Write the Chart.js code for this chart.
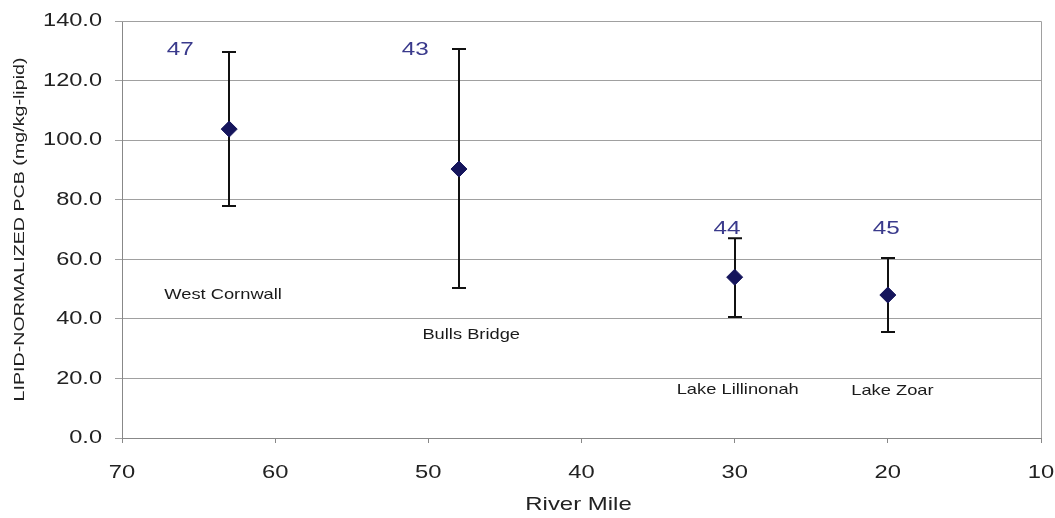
<!DOCTYPE html>
<html>
<head>
<meta charset="utf-8">
<script src="https://cdn.jsdelivr.net/npm/chart.js@4/dist/chart.umd.min.js"></script>
<style>
  html, body { margin: 0; padding: 0; background: #ffffff; }
  #wrap { width: 1055px; height: 518px; position: relative; }
</style>
</head>
<body>
<div id="wrap"><canvas id="chart"></canvas></div>
<script>
// Sampling stations along the river
const stations = ['West Cornwall', 'Bulls Bridge', 'Lake Lillinonah', 'Lake Zoar'];
const riverMile = [63, 48, 30, 20];
const meanPCB = [103.7, 90.3, 54.0, 48.0];
const upperPCB = [129.6, 130.6, 67.1, 60.4];
const lowerPCB = [77.9, 50.4, 40.6, 35.6];
const sampleCounts = ['47', '43', '44', '45'];

// Where the count and station name texts sit, in axis units [mile, value]
const countAnchors = [[66.2, 130.2], [50.85, 130.2], [30.5, 70.2], [20.1, 70.2]];
const nameAnchors = [[63.4, 48.0], [47.2, 34.6], [29.8, 16.1], [19.7, 15.8]];

const yTicks = [0, 20, 40, 60, 80, 100, 120, 140];
const xTicks = [70, 60, 50, 40, 30, 20, 10];
const xTitle = 'River Mile';
const yTitle = 'LIPID-NORMALIZED PCB (mg/kg-lipid)';

const FONT = '"Liberation Sans", Arial, sans-serif';
const points = riverMile.map((m, i) => ({ x: m, y: meanPCB[i] }));

// Text with a wide letter form (horizontal stretch sx along the text direction)
function wideText(ctx, text, x, y, size, sx, color, align, rotate) {
  ctx.save();
  ctx.translate(x, y);
  if (rotate) ctx.rotate(-Math.PI / 2);
  ctx.scale(sx, 1);
  ctx.font = size + 'px ' + FONT;
  ctx.fillStyle = color;
  ctx.textAlign = align || 'center';
  ctx.textBaseline = 'middle';
  ctx.fillText(text, 0, 0);
  ctx.restore();
}

// Vertical range bars with end caps
const rangeBars = {
  id: 'rangeBars',
  beforeDatasetsDraw(chart) {
    const { ctx, scales: { x, y } } = chart;
    ctx.save();
    ctx.strokeStyle = '#111111';
    ctx.lineWidth = 2;
    riverMile.forEach((m, i) => {
      const px = Math.round(x.getPixelForValue(m));
      const top = y.getPixelForValue(upperPCB[i]);
      const bot = y.getPixelForValue(lowerPCB[i]);
      ctx.beginPath();
      ctx.moveTo(px, top); ctx.lineTo(px, bot);
      ctx.moveTo(px - 7, top); ctx.lineTo(px + 7, top);
      ctx.moveTo(px - 7, bot); ctx.lineTo(px + 7, bot);
      ctx.stroke();
    });
    ctx.restore();
  }
};

// Axis labels, titles, sample counts and station names
const chartText = {
  id: 'chartText',
  afterDatasetsDraw(chart) {
    const { ctx, scales: { x, y }, chartArea: a } = chart;
    yTicks.forEach(v => {
      wideText(ctx, v.toFixed(1), a.left - 20, y.getPixelForValue(v), 19, 1.24, '#222222', 'right');
    });
    xTicks.forEach(v => {
      wideText(ctx, String(v), x.getPixelForValue(v), a.bottom + 35, 19, 1.25, '#222222', 'center');
    });
    wideText(ctx, xTitle, (a.left + a.right) / 2 - 3, a.bottom + 67, 19, 1.26, '#222222', 'center');
    wideText(ctx, yTitle, 20, (a.top + a.bottom) / 2, 15, 1.31, '#222222', 'center', true);
    sampleCounts.forEach((t, i) => {
      wideText(ctx, t, x.getPixelForValue(countAnchors[i][0]), y.getPixelForValue(countAnchors[i][1]),
        18, 1.35, '#3a3a8c', 'center');
    });
    stations.forEach((t, i) => {
      wideText(ctx, t, x.getPixelForValue(nameAnchors[i][0]), y.getPixelForValue(nameAnchors[i][1]),
        15, 1.22, '#1a1a1a', 'center');
    });
  }
};

// Top and right frame lines of the plot area
const frame = {
  id: 'frame',
  beforeDatasetsDraw(chart) {
    const { ctx, chartArea: a } = chart;
    ctx.save();
    ctx.strokeStyle = '#a0a0a0';
    ctx.lineWidth = 1;
    ctx.beginPath();
    ctx.moveTo(a.left, a.top + 0.5); ctx.lineTo(a.right + 0.5, a.top + 0.5);
    ctx.lineTo(a.right + 0.5, a.bottom);
    ctx.stroke();
    ctx.restore();
  }
};

new Chart(document.getElementById('chart'), {
  type: 'scatter',
  data: {
    datasets: [{
      data: points,
      pointStyle: 'rectRot',
      pointRadius: 8,
      pointHoverRadius: 8,
      backgroundColor: '#15155c',
      borderColor: '#15155c',
      borderWidth: 1
    }]
  },
  options: {
    responsive: true,
    maintainAspectRatio: false,
    animation: false,
    layout: { padding: { top: 21, right: 14, left: 0, bottom: 0 } },
    plugins: { legend: { display: false }, tooltip: { enabled: false } },
    scales: {
      x: {
        type: 'linear',
        reverse: true,
        min: 10,
        max: 70,
        afterFit(s) { s.height = 80; },
        afterBuildTicks(s) { s.ticks = xTicks.map(v => ({ value: v })); },
        grid: { display: true, drawOnChartArea: false, drawTicks: true, tickLength: 5, color: '#888888' },
        border: { display: true, color: '#888888', width: 1 },
        ticks: { display: false },
        title: { display: false }
      },
      y: {
        min: 0,
        max: 140,
        afterFit(s) { s.width = 122; },
        afterBuildTicks(s) { s.ticks = yTicks.map(v => ({ value: v })); },
        grid: { color: '#a0a0a0', lineWidth: 1, drawTicks: true, tickLength: 7 },
        border: { display: true, color: '#888888', width: 1 },
        ticks: { display: false },
        title: { display: false }
      }
    }
  },
  plugins: [frame, rangeBars, chartText]
});
</script>
</body>
</html>
